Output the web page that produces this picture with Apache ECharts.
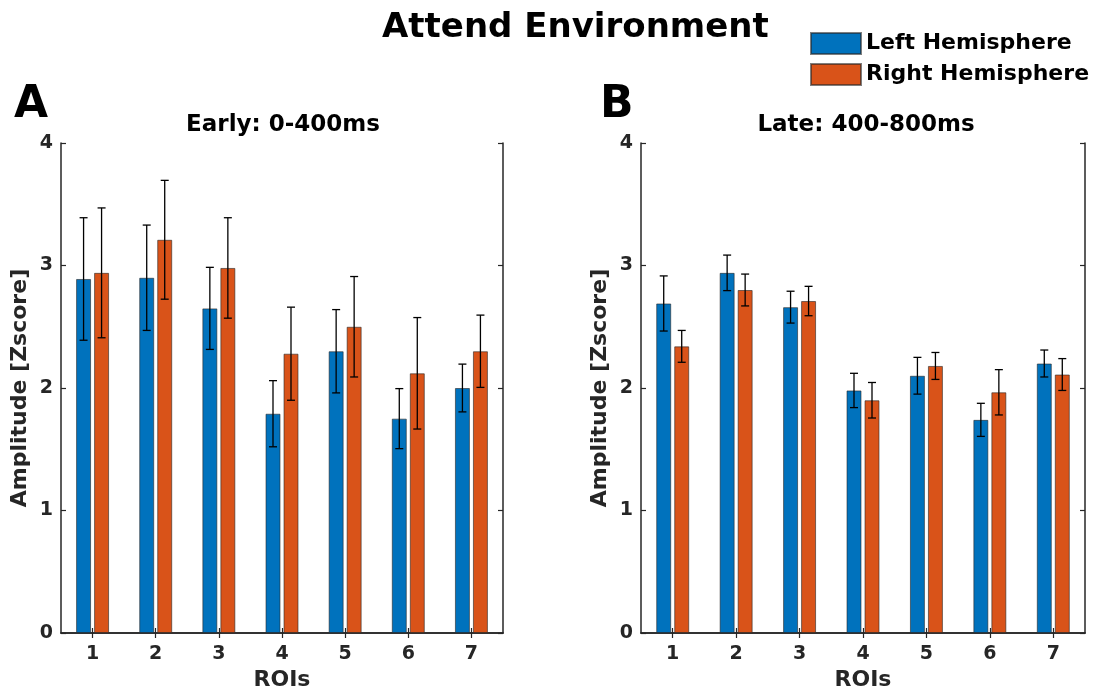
<!DOCTYPE html>
<html>
<head>
    <meta charset="utf-8">
    <title>Attend Environment</title>
    <script type="text/javascript" src="https://cdn.jsdelivr.net/npm/echarts@6/dist/echarts.min.js"></script>
    <style>
        html, body { margin: 0; padding: 0; background: #fff; }
    </style>
</head>
<body>
    <div id="main" style="width: 1093px;height:696px;"></div>
    <script type="text/javascript">
        // ROIs on the x axis
        var rois = ['1', '2', '3', '4', '5', '6', '7'];

        // Early: 0-400ms
        var earlyLeft = [2.89, 2.90, 2.65, 1.79, 2.30, 1.75, 2.00];
        var earlyLeftErr = [0.50, 0.43, 0.335, 0.27, 0.34, 0.245, 0.195];
        var earlyRight = [2.94, 3.21, 2.98, 2.28, 2.50, 2.12, 2.30];
        var earlyRightErr = [0.53, 0.485, 0.41, 0.38, 0.41, 0.455, 0.295];

        // Late: 400-800ms
        var lateLeft = [2.69, 2.94, 2.66, 1.98, 2.10, 1.74, 2.20];
        var lateLeftErr = [0.225, 0.145, 0.13, 0.14, 0.15, 0.135, 0.11];
        var lateRight = [2.34, 2.80, 2.71, 1.90, 2.18, 1.965, 2.11];
        var lateRightErr = [0.13, 0.13, 0.12, 0.145, 0.11, 0.185, 0.13];

        var yMin = 0, yMax = 4, yStep = 1;

        var myChart = echarts.init(document.getElementById('main'));
        var font = 'DejaVu Sans';
        var axisColor = '#262626';
        var blue = '#0072BD';
        var orange = '#D95319';
        var barW = 15;
        var offset = 9;   // half distance between the two bar centres

        function errData(vals, errs) {
            return vals.map(function (v, i) { return [i, v - errs[i], v + errs[i]]; });
        }

        function errorItem(dx) {
            return function (params, api) {
                var x = api.value(0);
                var lo = api.coord([x, api.value(1)]);
                var hi = api.coord([x, api.value(2)]);
                var cx = lo[0] + dx;
                var cap = 4;
                var st = { stroke: '#000', lineWidth: 1.3 };
                return {
                    type: 'group',
                    children: [
                        { type: 'line', shape: { x1: cx, y1: hi[1], x2: cx, y2: lo[1] }, style: st },
                        { type: 'line', shape: { x1: cx - cap, y1: hi[1], x2: cx + cap, y2: hi[1] }, style: st },
                        { type: 'line', shape: { x1: cx - cap, y1: lo[1], x2: cx + cap, y2: lo[1] }, style: st }
                    ]
                };
            };
        }

        var tickStyle = { show: true, inside: true, length: 5, lineStyle: { color: axisColor, width: 1.2 } };
        var lineStyle = { show: true, lineStyle: { color: axisColor, width: 1.5 } };
        var labelFont = { fontFamily: font, fontWeight: 'bold', fontSize: 19, color: axisColor };
        var nameFont = { fontFamily: font, fontWeight: 'bold', fontSize: 22, color: axisColor };

        function xAxes(g) {
            return [
                {
                    type: 'category', gridIndex: g, data: rois, position: 'bottom',
                    axisLine: lineStyle, axisTick: Object.assign({ alignWithLabel: true }, tickStyle),
                    axisLabel: Object.assign({ margin: 12 }, labelFont),
                    name: 'ROIs', nameLocation: 'middle', nameGap: 34, nameTextStyle: nameFont,
                    splitLine: { show: false }
                },
                {
                    type: 'category', gridIndex: g, data: rois, position: 'top',
                    axisLine: lineStyle, axisTick: Object.assign({ alignWithLabel: true }, tickStyle),
                    axisLabel: { show: false }, splitLine: { show: false }
                }
            ];
        }

        function yAxes(g) {
            return [
                {
                    type: 'value', gridIndex: g, min: yMin, max: yMax, interval: yStep, position: 'left',
                    axisLine: lineStyle, axisTick: tickStyle,
                    axisLabel: Object.assign({ margin: 8 }, labelFont),
                    name: 'Amplitude [Zscore]', nameLocation: 'middle', nameGap: 30, nameTextStyle: nameFont,
                    splitLine: { show: false }
                },
                {
                    type: 'value', gridIndex: g, min: yMin, max: yMax, interval: yStep, position: 'right',
                    axisLine: lineStyle, axisTick: tickStyle,
                    axisLabel: { show: false }, splitLine: { show: false }
                }
            ];
        }

        function barSeries(name, data, color, xi, yi) {
            return {
                name: name, type: 'bar', xAxisIndex: xi, yAxisIndex: yi, data: data,
                barWidth: barW, barGap: '20%',
                itemStyle: { color: color, borderColor: 'rgba(40,40,40,0.6)', borderWidth: 1 },
                emphasis: { disabled: true }
            };
        }

        function errSeries(vals, errs, dx, xi, yi) {
            return {
                type: 'custom', xAxisIndex: xi, yAxisIndex: yi, z: 5,
                data: errData(vals, errs), renderItem: errorItem(dx), silent: true
            };
        }

        option = {
            animation: false,
            title: {
                text: 'Attend Environment', left: 377, top: 6,
                textStyle: { fontFamily: font, fontWeight: 'bold', fontSize: 34, color: '#000' }
            },
            legend: {
                orient: 'vertical', left: 805, top: 27, itemGap: 8,
                itemWidth: 50, itemHeight: 21, icon: 'rect',
                data: ['Left Hemisphere', 'Right Hemisphere'],
                textStyle: { fontFamily: font, fontWeight: 'bold', fontSize: 22, color: '#000' }
            },
            graphic: [
                { type: 'text', style: { x: 14, y: 106, text: 'A', fontFamily: font, fontWeight: 'bold', fontSize: 44, fill: '#000', verticalAlign: 'middle' } },
                { type: 'text', style: { x: 600, y: 106, text: 'B', fontFamily: font, fontWeight: 'bold', fontSize: 44, fill: '#000', verticalAlign: 'middle' } },
                { type: 'text', style: { x: 283, y: 125, text: 'Early: 0-400ms', fontFamily: font, fontWeight: 'bold', fontSize: 23, fill: '#000', align: 'center', verticalAlign: 'middle' } },
                { type: 'text', style: { x: 866, y: 125, text: 'Late: 400-800ms', fontFamily: font, fontWeight: 'bold', fontSize: 23, fill: '#000', align: 'center', verticalAlign: 'middle' } }
            ],
            grid: [
                { left: 61, top: 143, width: 442, height: 490 },
                { left: 641, top: 143, width: 444, height: 490 }
            ],
            xAxis: xAxes(0).concat(xAxes(1)),
            yAxis: yAxes(0).concat(yAxes(1)),
            series: [
                barSeries('Left Hemisphere', earlyLeft, blue, 0, 0),
                barSeries('Right Hemisphere', earlyRight, orange, 0, 0),
                errSeries(earlyLeft, earlyLeftErr, -offset, 0, 0),
                errSeries(earlyRight, earlyRightErr, offset, 0, 0),
                barSeries('Left Hemisphere', lateLeft, blue, 2, 2),
                barSeries('Right Hemisphere', lateRight, orange, 2, 2),
                errSeries(lateLeft, lateLeftErr, -offset, 2, 2),
                errSeries(lateRight, lateRightErr, offset, 2, 2)
            ]
        };

        myChart.setOption(option);
    </script>
</body>
</html>
